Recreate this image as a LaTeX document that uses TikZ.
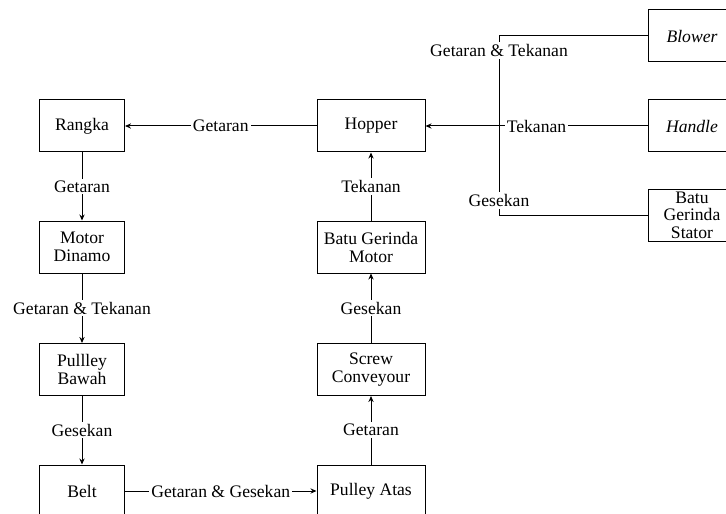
\documentclass[tikz,border=0pt]{standalone}
\usepackage{fontspec}
\setmainfont{Liberation Serif}
\usetikzlibrary{arrows.meta}
\usetikzlibrary{calc,positioning}

\begin{document}
\begin{tikzpicture}[x=0.5pt,y=-0.5pt]
    \tikzstyle{blok} = [draw, line width=0.5pt, minimum width=42.5pt, minimum height=26pt, align=center, inner sep=1pt, font=\fontsize{8.8}{9}\selectfont]
    \tikzstyle{blokl} = [blok, minimum width=54pt]
    \tikzstyle{blokr} = [blok, minimum width=44pt]
    \tikzstyle{ket} = [fill=white, inner sep=1pt, font=\fontsize{8.8}{9}\selectfont]
    \tikzstyle{panah} = [-{Stealth[length=3pt,width=2.6pt]}, line width=0.5pt]

    \useasboundingbox (0,0) rectangle (726,513);

    % Kolom kiri .........................
	\node[blok] (rangka) at (82,126) {Rangka};
	\node[blok] (motor) at (82,247) {Motor\\Dinamo};
	\node[blok] (pbawah) at (82,369.5) {Pullley\\Bawah};
	\node[blok] (belt) at (82,491) {Belt};

    % Kolom tengah .........................
	\node[blokl] (hopper) at (371,126) {Hopper};
	\node[blokl] (bgmotor) at (371,247) {Batu Gerinda\\Motor};
	\node[blokl] (screw) at (371,369.5) {Screw\\Conveyour};
	\node[blokl] (patas) at (371,491) {Pulley Atas};

    % Kolom kanan .........................
	\node[blokr] (blower) at (692,36) {\textit{Blower}};
	\node[blokr] (handle) at (692,126) {\textit{Handle}};
	\node[blokr, font=\fontsize{8.8}{8.7}\selectfont, inner sep=0pt] (stator) at (692,215) {Batu\\Gerinda\\Stator};
	\coordinate (atas) at (499,36);
	\coordinate (bawah) at (499,215);

	 \draw[panah] (rangka) -- node[ket] {Getaran} (motor);
	 \draw[panah] (motor) -- node[ket] {Getaran \& Tekanan} (pbawah);
	 \draw[panah] (pbawah) -- node[ket] {Gesekan} (belt);
	 \draw[panah] (belt) -- node[ket] {Getaran \& Gesekan} (patas);
	 \draw[panah] (patas) -- node[ket] {Getaran} (screw);
	 \draw[panah] (screw) -- node[ket] {Gesekan} (bgmotor);
	 \draw[panah] (bgmotor) -- node[ket] {Tekanan} (hopper);
	 \draw[panah] (hopper) -- node[ket] {Getaran} (rangka);
	 \draw[panah] (handle) -- node[ket] {Tekanan} (hopper);

	 \draw[line width=0.5pt] (blower) -- (atas) -- node[ket,pos=0.08] {Getaran \& Tekanan}
	       node[ket,pos=0.92] {Gesekan} (bawah) -- (stator);

\end{tikzpicture}
\end{document}
